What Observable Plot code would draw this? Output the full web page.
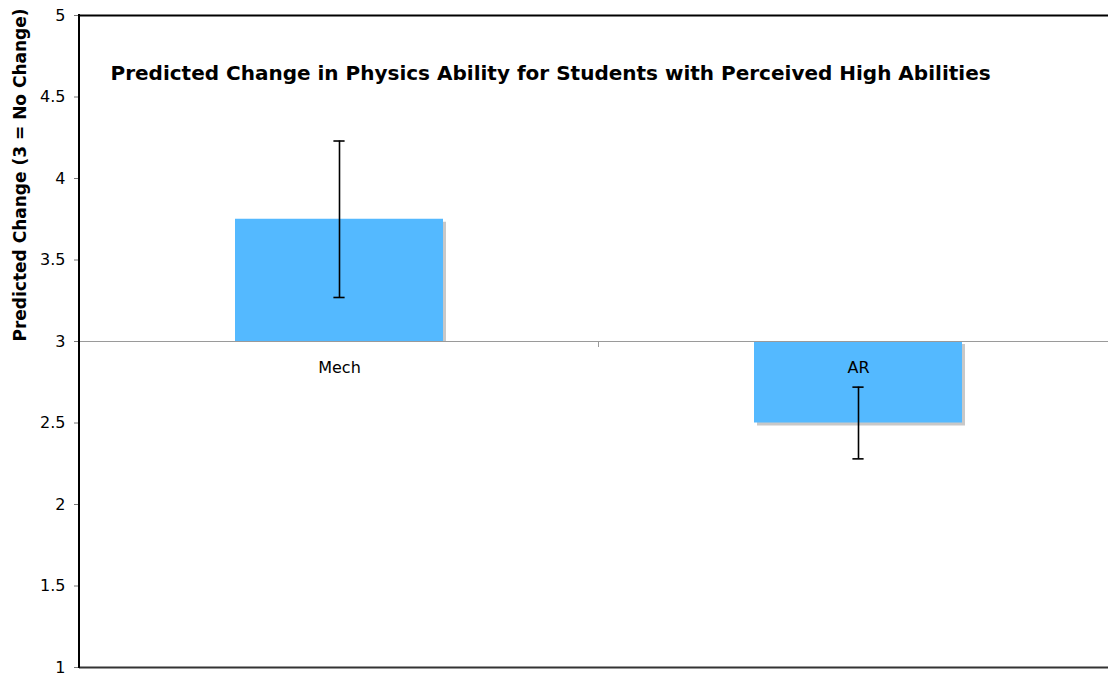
<!DOCTYPE html>
<html><head><meta charset="utf-8">
<script src="https://cdn.jsdelivr.net/npm/d3@7"></script>
<script src="https://cdn.jsdelivr.net/npm/@observablehq/plot@0.6"></script>
<style>
body{margin:0;overflow:hidden;background:#fff}
#chart{width:1108px;height:675px;overflow:hidden}
#chart svg{max-width:none !important}
</style>
</head><body><div id="chart"></div>
<script>
const categories = ["Mech", "AR"];
const means = [3.75, 2.5];
const lower = [3.27, 2.28];
const upper = [4.23, 2.72];
const baseline = 3;
const yTicks = [1, 1.5, 2, 2.5, 3, 3.5, 4, 4.5, 5];
const title = "Predicted Change in Physics Ability for Students with Perceived High Abilities";
const yLabel = "Predicted Change (3 = No Change)";

const data = categories.map((c, i) => ({cat: c, mean: means[i], lo: lower[i], hi: upper[i]}));
const font = "DejaVu Sans, Verdana, sans-serif";
const W = 1120, H = 675, ML = 79, MR = 2, MT = 15, MB = 8;
const step = (W - ML - MR) / categories.length;
const bw = step * 0.4;
const capInset = (bw - 11) / 2;

const plot = Plot.plot({
  width: W, height: H,
  marginLeft: ML, marginRight: MR, marginTop: MT, marginBottom: MB,
  style: {fontFamily: font, background: "#fff", overflow: "visible", maxWidth: "none"},
  x: {domain: categories, paddingInner: 0.6, paddingOuter: 0.3, axis: null},
  y: {domain: [1, 5]},
  marks: [
    Plot.axisY({ticks: yTicks, tickFormat: d => String(d), tickSize: 5, tickPadding: 9,
      fontSize: 16, fill: "#000", stroke: "#777", label: null}),
    // shadows
    Plot.rectY(data.filter(d => d.mean >= baseline), {x: "cat", y1: d => baseline, y2: "mean",
      fill: "#c8c8c8", dx: 3, dy: 3, insetBottom: 3}),
    Plot.rectY(data.filter(d => d.mean < baseline), {x: "cat", y1: d => baseline, y2: "mean",
      fill: "#c8c8c8", dx: 3, dy: 3}),
    Plot.rectY(data, {x: "cat", y1: d => baseline, y2: "mean", fill: "#54b9ff"}),
    Plot.ruleY([baseline], {stroke: "#9a9a9a", strokeWidth: 1}),
    Plot.ruleY([1], {stroke: "#333", strokeWidth: 2}),
    Plot.ruleY([5], {stroke: "#000", strokeWidth: 2}),
    Plot.ruleX(data, {x: "cat", y1: "lo", y2: "hi", stroke: "#000", strokeWidth: 1.6}),
    Plot.tickY(data, {x: "cat", y: "lo", stroke: "#000", strokeWidth: 1.6, insetLeft: capInset, insetRight: capInset}),
    Plot.tickY(data, {x: "cat", y: "hi", stroke: "#000", strokeWidth: 1.6, insetLeft: capInset, insetRight: capInset}),
    Plot.text(data, {x: "cat", y: d => baseline, dy: 26, text: "cat", fontSize: 16, fill: "#000"}),
    Plot.text([title], {frameAnchor: "top-left", dx: 31, dy: 58, lineAnchor: "middle", textAnchor: "start",
      fontWeight: "bold", fontSize: 20, fill: "#000"}),
    Plot.text([yLabel], {frameAnchor: "left", dx: -59, rotate: -90, fontWeight: "bold", fontSize: 17, fill: "#000"})
  ]
});

// left frame line and category separator tick, positioned via the plot's scales
const xs = plot.scale("x"), ys = plot.scale("y");
const svg = d3.select(plot);
svg.append("line").attr("x1", ML).attr("x2", ML)
  .attr("y1", ys.apply(5) - 1).attr("y2", ys.apply(1) + 1)
  .attr("stroke", "#000").attr("stroke-width", 2);
const mid = (xs.apply(categories[0]) + xs.bandwidth + xs.apply(categories[1])) / 2;
svg.append("line").attr("x1", mid).attr("x2", mid)
  .attr("y1", ys.apply(baseline)).attr("y2", ys.apply(baseline) + 6)
  .attr("stroke", "#9a9a9a").attr("stroke-width", 1);

document.getElementById("chart").appendChild(plot);
</script>
</body></html>
